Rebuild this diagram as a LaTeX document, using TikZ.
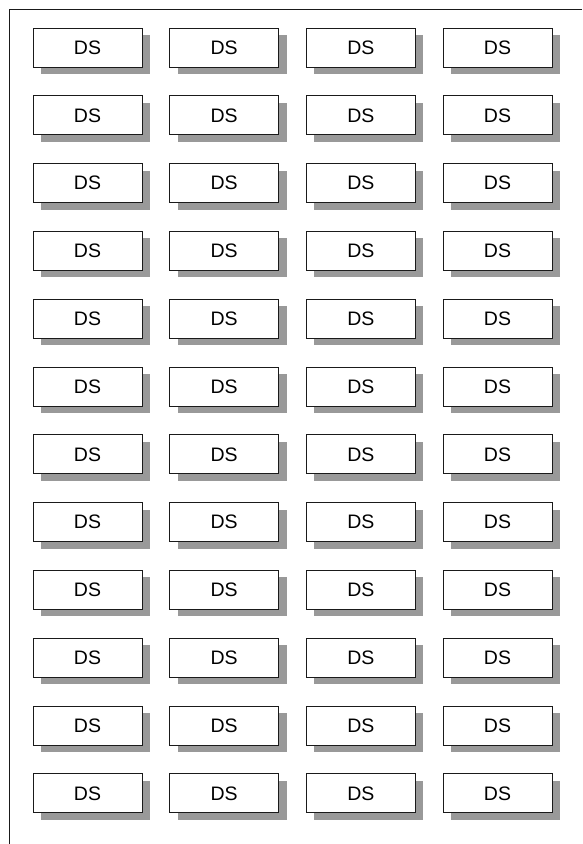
\documentclass[tikz,border=0pt]{standalone}
\usepackage{fontspec}
\setmainfont{Liberation Sans}
\usepackage{xcolor}
\usepackage{tikz}
\usetikzlibrary{shadows}
\definecolor{dsshade}{HTML}{999999}
\definecolor{dsline}{HTML}{1A1A1A}

\begin{document}
\begin{tikzpicture}[
    x=1pt, y=-1pt,
    dsbox/.style={rectangle, draw=dsline, fill=white, line width=1pt,
                  minimum width=109pt, minimum height=39pt, inner sep=0pt,
                  font=\fontsize{19.5}{19.5}\selectfont,
                  drop shadow={shadow xshift=8pt, shadow yshift=-7pt,
                               fill=dsshade, opacity=1}},
    frame/.style={draw=dsline, line width=1pt},
]
    \useasboundingbox (0,0) rectangle (582,844);

    % Frame
    \coordinate (ftop) at (582,9.5);
    \coordinate (fcorner) at (9.5,9.5);
    \coordinate (fbottom) at (9.5,844);
    \draw[frame] (ftop) -- (fcorner) -- (fbottom);

    % Grid of DS boxes
    \foreach \r in {0,...,11} {
        \foreach \c in {0,...,3} {
            \node[dsbox] (ds-\r-\c) at (87.5+136.67*\c, 47.5+67.8*\r) {DS};
        }
    }
\end{tikzpicture}
\end{document}
